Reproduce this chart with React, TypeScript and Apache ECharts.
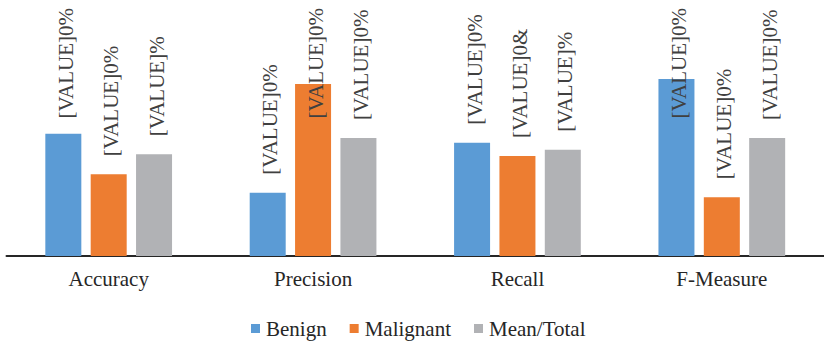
import React, { useEffect, useRef } from "react";
import * as echarts from "echarts";

// Metric groups along the x axis
const categories = ["Accuracy", "Precision", "Recall", "F-Measure"];

// Score per metric for each class (percent scale)
const benign = [48.9, 25.3, 45.3, 70.8];
const malignant = [32.7, 68.8, 40.0, 23.5];
const meanTotal = [40.7, 47.2, 42.5, 47.2];

// Data label texts shown above each bar
const benignLabels = ["[VALUE]0%", "[VALUE]0%", "[VALUE]0%", "[VALUE]0%"];
const malignantLabels = ["[VALUE]0%", "[VALUE]0%", "[VALUE]0&", "[VALUE]0%"];
const meanTotalLabels = ["[VALUE]%", "[VALUE]0%", "[VALUE]%", "[VALUE]0%"];

const FONT = "'Liberation Serif', 'Times New Roman', serif";

export default function App() {
  const ref = useRef<HTMLDivElement>(null);

  useEffect(() => {
    if (!ref.current) return;
    const chart = echarts.init(ref.current, null, { renderer: "svg" });

    const makeSeries = (name: string, values: number[], texts: string[], color: string) => ({
      name,
      type: "bar",
      data: values,
      barWidth: 36,
      barGap: "26%",
      itemStyle: { color },
      label: {
        show: true,
        position: "top",
        rotate: 90,
        align: "left",
        verticalAlign: "middle",
        distance: 18,
        fontFamily: FONT,
        fontSize: 21,
        color: "#404040",
        formatter: (p: any) => texts[p.dataIndex],
      },
      // keep labels inside the plot: push them down when they would run off the top
      labelLayout: (p: any) => {
        const len = p.labelRect.height;
        const anchor = p.rect.y - 18;
        return {
          x: p.rect.x + p.rect.width / 2 + 2.5,
          y: Math.max(anchor, 8 + len),
        };
      },
    });

    chart.setOption({
      animation: false,
      textStyle: { fontFamily: FONT },
      grid: { left: 6.5, width: 819.6, top: 6, bottom: 87, containLabel: false },
      legend: {
        left: 251,
        top: 318,
        padding: 0,
        icon: "rect",
        itemWidth: 9,
        itemHeight: 9,
        itemGap: 23,
        textStyle: {
          fontFamily: FONT,
          fontSize: 21,
          lineHeight: 21,
          color: "#262626",
          padding: [0, 0, 0, 1],
        },
      },
      xAxis: {
        type: "category",
        data: categories,
        axisTick: { show: false },
        axisLine: { lineStyle: { color: "#262626", width: 2 } },
        axisLabel: { fontFamily: FONT, fontSize: 21, color: "#262626", margin: 12 },
      },
      yAxis: {
        type: "value",
        min: 0,
        max: 100,
        show: false,
        splitLine: { show: false },
      },
      series: [
        makeSeries("Benign", benign, benignLabels, "#5B9BD5"),
        makeSeries("Malignant", malignant, malignantLabels, "#ED7D31"),
        makeSeries("Mean/Total", meanTotal, meanTotalLabels, "#B1B2B5"),
      ],
    });

    return () => chart.dispose();
  }, []);

  return (
    <div
      ref={ref}
      style={{ position: "fixed", left: 0, top: 0, width: 824, height: 343, background: "#fff" }}
    />
  );
}
